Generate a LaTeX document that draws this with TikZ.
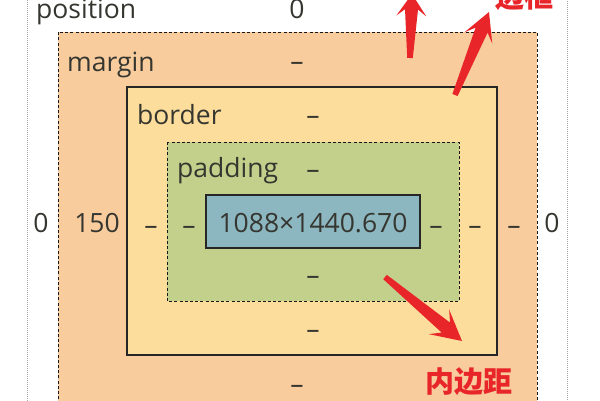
\documentclass[tikz,border=0pt]{standalone}
\usepackage{fontspec}
\setmainfont{Open Sans}
\newfontfamily\cjk{Noto Sans CJK SC}
\usetikzlibrary{calc}
\definecolor{marginc}{HTML}{F9CC9D}
\definecolor{borderc}{HTML}{FDDD9B}
\definecolor{paddingc}{HTML}{C3D08B}
\definecolor{contentc}{HTML}{8CB6C0}
\definecolor{txt}{HTML}{363630}
\definecolor{arrowred}{HTML}{E8262A}
\tikzset{
  lbl/.style={inner sep=0pt, anchor=base, text=txt, font=\fontsize{26.5}{28}\selectfont},
  lblw/.style={lbl, anchor=base west},
  redlbl/.style={inner sep=0pt, text=arrowred, font=\cjk\bfseries\fontsize{29}{31}\selectfont},
  dashbox/.style={draw=black!90, line width=1pt, dash pattern=on 3pt off 2.2pt},
}
\newcommand\fatarrow[4]{% tail, tip, head length, head half width
  \path (#2) coordinate (fa-tip)
        ($(#2)!#3!(#1)$) coordinate (fa-base)
        ($(#2)!0.7*#3!(#1)$) coordinate (fa-neck);
  \fill[arrowred]
    ($(#1)!2.8pt!90:(#2)$) --
    ($(fa-neck)!6.5pt!90:(fa-tip)$) --
    ($(fa-base)!#4!90:(fa-tip)$) --
    (fa-tip) --
    ($(fa-base)!#4!-90:(fa-tip)$) --
    ($(fa-neck)!6.5pt!-90:(fa-tip)$) --
    ($(#1)!2.8pt!-90:(#2)$) -- cycle;
}
\begin{document}
\begin{tikzpicture}[x=1pt,y=-1pt]
\useasboundingbox (0,0) rectangle (600,400);
\clip (0,0) rectangle (600,400);
\fill[white] (0,0) rectangle (600,400);
% position box
\draw[gray!70, line width=0.8pt, dash pattern=on 1pt off 1pt] (27,-20) rectangle (567,420);
% margin
\fill[marginc] (58,32) rectangle (537,420);
\draw[dashbox] (58,420) -- (58,32) -- (537,32) -- (537,420);
% border
\draw[fill=borderc, draw=black!85, line width=1.3pt] (127,87) rectangle (497,355);
% padding
\fill[paddingc] (167,142) rectangle (459,301);
\draw[dashbox] (167,142) rectangle (459,301);
% content
\node[draw=black!85, line width=1.3pt, fill=contentc, minimum width=214pt, minimum height=53pt, inner sep=0pt] (content) at (313,221.5) {};
\node[lbl] (contenttxt) at (313,232) {1088×1440.670};

\node[lblw] (position) at (36,18) {position};
\node[lbl] (ptop) at (297,18) {0};
\node[lblw] (margin) at (67,71) {margin};
\node[lbl] (mtop) at (297,70) {–};
\node[lblw] (border) at (137,124) {border};
\node[lbl] (btop) at (313,124) {–};
\node[lblw] (padding) at (177,177) {padding};
\node[lbl] (padtop) at (313,178) {–};

\node[lbl] (pleft) at (41,232) {0};
\node[lbl] (mleft) at (97,232) {150};
\node[lbl] (bleft) at (151,234) {–};
\node[lbl] (padleft) at (189,234) {–};
\node[lbl] (padright) at (436,234) {–};
\node[lbl] (bright) at (475,234) {–};
\node[lbl] (mright) at (514,234) {–};
\node[lbl] (pright) at (552,232) {0};

\node[lbl] (padbot) at (313,284) {–};
\node[lbl] (bbot) at (313,338) {–};
\node[lbl] (mbot) at (297,393) {–};

\node[redlbl] (neibianju) at (469,382) {内边距};
\node[redlbl] (biankuang) at (524,-3) {边框};

\coordinate (a1t) at (410,58);
\coordinate (a1h) at (412,-6);
\coordinate (a2t) at (455,95);
\coordinate (a2h) at (489,12);
\coordinate (a3t) at (385,277);
\coordinate (a3h) at (462,341);
\fatarrow{a1t}{a1h}{22pt}{15pt}
\fatarrow{a2t}{a2h}{28pt}{15pt}
\fatarrow{a3t}{a3h}{30pt}{16pt}
\end{tikzpicture}
\end{document}
